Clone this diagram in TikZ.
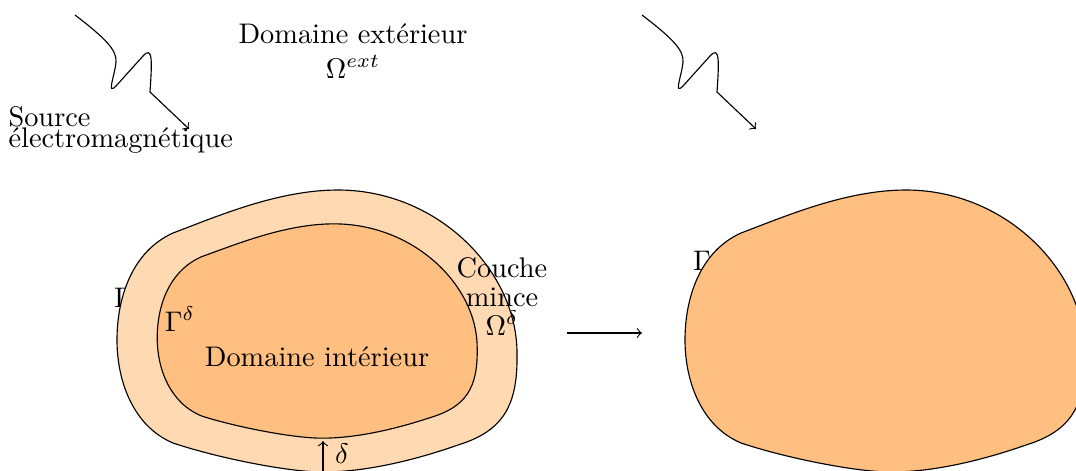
\documentclass[tikz,border=0pt]{standalone}
\usetikzlibrary{arrows}
\begin{document}
\begin{tikzpicture}[x=0.3528pt,y=-0.3528pt,
  lightfill/.style={draw=black,fill=orange!30},
  darkfill/.style={draw=black,fill=orange!50},
  lbl/.style={inner sep=0pt},
  arr/.style={->}]
\useasboundingbox (0,0) rectangle (1076,470);
\clip (0,0) rectangle (1076,470);
\def\blob{(-145,-98) .. controls (-100,-115) and (-40,-141) .. (20,-141)
  .. controls (120,-141) and (199,-60) .. (199,22)
  .. controls (200,75) and (185,100) .. (140,114)
  .. controls (100,128) and (50,141) .. (5,141)
  .. controls (-30,141) and (-100,127) .. (-145,112)
  .. controls (-185,95) and (-201,50) .. (-201,9)
  .. controls (-201,-35) and (-185,-80) .. cycle}
% hidden Gamma labels (behind shapes)
\node[lbl,anchor=base] (gam) at (123,307) {$\Gamma$};
\node[lbl,anchor=base] (gam2) at (702,270) {$\Gamma$};
% left domain
\begin{scope}[shift={(318,331)}]
  \draw[lightfill] \blob;
  \draw[darkfill,xscale=0.8,yscale=0.76] \blob;
\end{scope}
% right domain
\begin{scope}[shift={(886,331)}]
  \draw[darkfill] \blob;
\end{scope}
% labels
\node[lbl,align=center,anchor=base] (ext) at (353,78) {Domaine extérieur\\$\Omega^{ext}$};
\node[lbl,align=left,anchor=base west] (src) at (8,147) {Source\\[-4.6pt]électromagnétique};
\node[lbl,align=center,anchor=base] (cm) at (502,335) {Couche\\[-1.8pt]mince\\[-1.8pt]$\Omega^{\delta}$};
\node[lbl,anchor=base] (gd) at (180,331) {$\Gamma^{\delta}$};
\node[lbl,anchor=base] (di) at (317,366) {Domaine intérieur};
\node[lbl] (dl) at (342,454) {$\delta$};
% waves
\coordinate (w1) at (75,15);
\coordinate (w1e) at (189,129);
\draw[arr] (w1) .. controls (105,38) and (117,50) .. (116,62) .. controls (115,75) and (106,96) .. (116,86) -- (143,56) .. controls (153,45) and (152,62) .. (150,92) -- (w1e);
\coordinate (w2) at (642,15);
\coordinate (w2e) at (756,129);
\draw[arr] (w2) .. controls (672,38) and (684,50) .. (683,62) .. controls (682,75) and (673,96) .. (683,86) -- (710,56) .. controls (720,45) and (719,62) .. (717,92) -- (w2e);
% delta arrow
\coordinate (d1) at (323,441);
\coordinate (d2) at (323,478);
\draw[<->] (d1) -- (d2);
% transform arrow
\coordinate (a1) at (567,333);
\coordinate (a2) at (642,333);
\draw[arr] (a1) -- (a2);
\end{tikzpicture}
\end{document}
